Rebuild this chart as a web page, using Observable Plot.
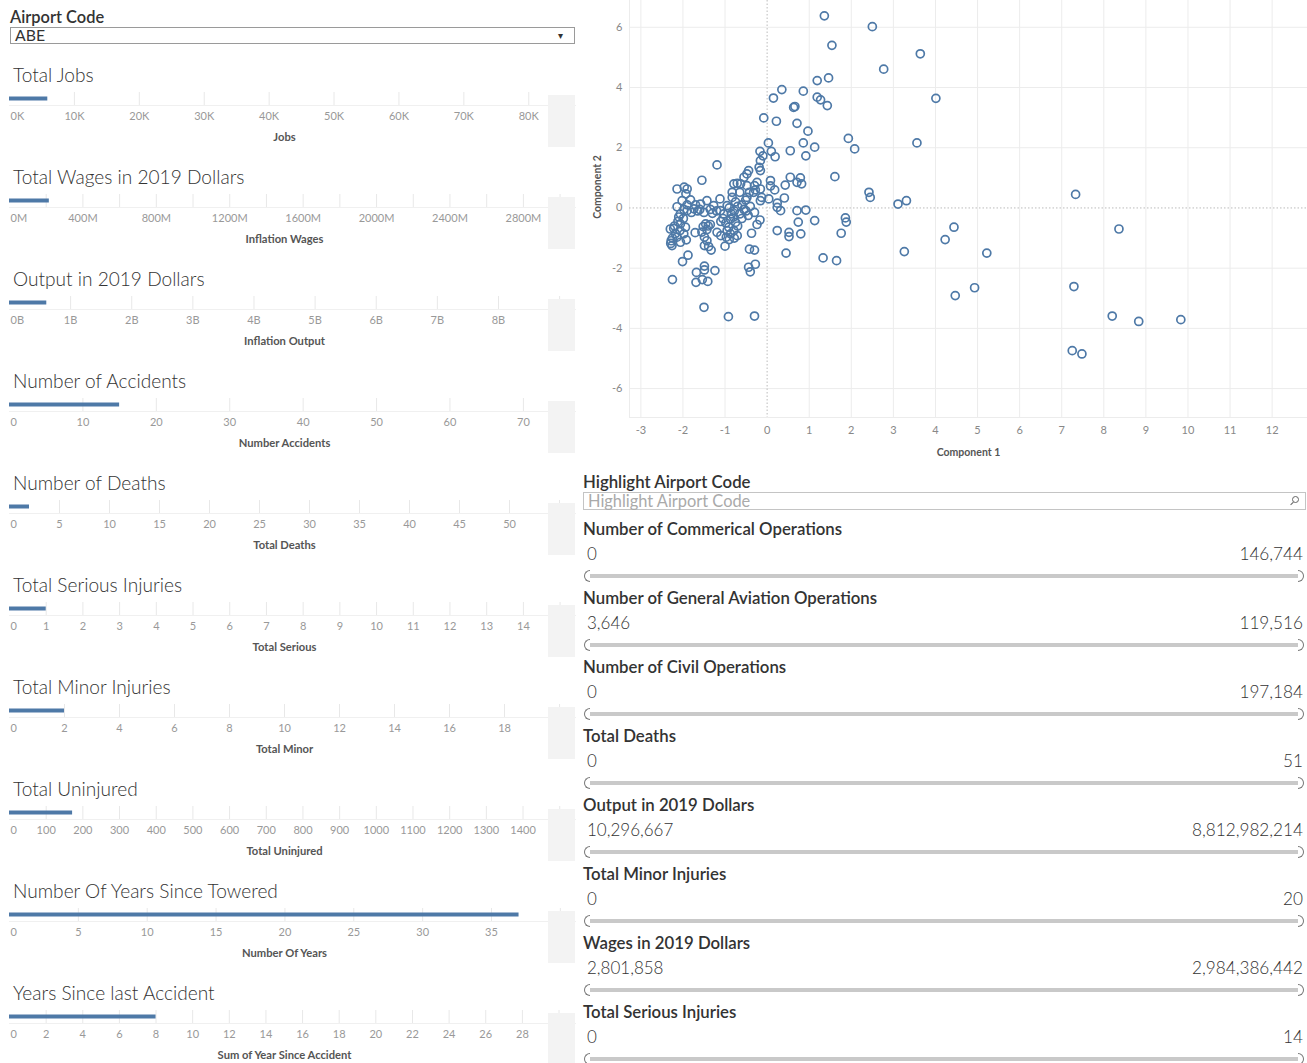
<!DOCTYPE html>
<html><head><meta charset="utf-8">
<script src="https://cdn.jsdelivr.net/npm/d3@7"></script>
<script src="https://cdn.jsdelivr.net/npm/@observablehq/plot@0.6"></script>
<style>
html,body{margin:0;padding:0;background:#fff;}
body{width:1307px;height:1063px;position:relative;overflow:hidden;font-family:Lato,"Open Sans",sans-serif;color:#333;}
#root{position:absolute;left:0;top:0;width:1307px;height:1063px;}
</style></head><body>
<div id="root"></div>
<script>
// ---------- Left panel: single-airport bar charts ----------
const barTitles = ["Total Jobs","Total Wages in 2019 Dollars","Output in 2019 Dollars","Number of Accidents","Number of Deaths","Total Serious Injuries","Total Minor Injuries","Total Uninjured","Number Of Years Since Towered","Years Since last Accident"];
const barValues = [5900, 217e6, 0.61e9, 15, 2, 1, 2, 172, 37, 8];
const barAxisTitles = ["Jobs","Inflation Wages","Inflation Output","Number Accidents","Total Deaths","Total Serious","Total Minor","Total Uninjured","Number Of Years","Sum of Year Since Accident"];
const barAxisMax = [87200, 3084e6, 9.26e9, 77.1, 56.6, 15.42, 20.58, 1543, 41.1, 30.9];
const barTickStep = [10000, 400e6, 1e9, 10, 5, 1, 2, 100, 5, 2];
const barGridStep = [10000, 200e6, 1e9, 10, 5, 1, 2, 100, 5, 2];
const barLastTick = [80000, 2800e6, 9e9, 70, 55, 15, 20, 1400, 40, 30];
const barUnit = [1e3, 1e6, 1e9, 1, 1, 1, 1, 1, 1, 1];
const barSuffix = ["K","M","B","","","","","","",""];

// ---------- PCA scatter ----------
const component1 = [
-2.14,-1.97,-1.90,-1.93,-2.14,-2.02,-1.82,-1.90,-1.98,-1.90,-2.06,-1.80,-1.74,-1.70,
-2.30,-2.22,-2.28,-2.26,-2.29,-2.14,-2.07,-2.06,-2.12,-1.98,-1.94,-1.92,-2.06,-2.18,-2.10,-1.99,-2.20,-2.25,-1.71,-1.88,-2.01,-2.25,
-1.58,-1.43,-1.55,-1.19,-1.60,-1.50,-1.35,-1.27,-1.12,-1.20,-1.46,-1.40,-1.52,-1.43,-1.35,-1.49,-1.43,-1.49,-1.39,-1.33,-1.55,-1.68,-1.69,-1.49,-1.49,-1.54,-1.41,-1.24,-1.50,-1.65,-1.30,
-1.19,-1.10,-1.00,-0.97,-0.87,-0.79,-0.71,-0.91,-0.75,-0.87,-1.03,-1.11,-0.95,-1.05,-0.98,-0.85,-0.80,-0.70,-0.65,-0.95,-1.10,-0.90,-0.78,-0.60,-0.92,-0.83,-0.83,-0.65,-0.79,-0.71,-0.63,-0.75,-0.70,-0.60,-0.55,-0.90,-0.78,
-0.48,-0.48,-0.32,-0.16,-0.44,-0.48,-0.55,-0.16,-0.24,-0.30,-0.16,-0.19,-0.16,-0.17,-0.10,-0.08,-0.42,-0.28,-0.51,-0.13,-0.50,-0.45,-0.37,-0.24,-0.17,-0.42,-0.30,-0.44,-0.40,-0.28,-0.30,-0.40,-0.30,
0.04,0.41,0.24,0.24,0.32,0.08,0.18,0.43,0.08,0.55,0.79,0.82,0.71,0.03,0.10,0.19,0.55,0.92,0.86,0.97,0.71,0.22,0.15,0.35,0.86,0.63,0.66,0.71,0.92,0.24,0.52,0.52,0.45,0.74,0.80,
1.36,2.50,1.54,3.64,2.77,1.19,1.46,1.19,1.27,1.43,4.01,1.93,2.08,3.56,1.13,1.61,2.42,2.45,3.11,3.31,1.13,1.33,1.65,1.76,1.86,1.88,3.26,4.23,4.44,4.47,
7.33,8.36,5.22,4.93,7.29,8.20,8.83,9.83,7.25,7.48];
const component2 = [
0.63,0.69,0.63,0.47,0.04,0.24,0.27,0.10,-0.05,-0.09,-0.20,-0.15,-0.03,0.10,
-0.70,-0.68,-1.09,-1.25,-1.18,-0.97,-0.75,-0.53,-0.45,-0.86,-0.64,-1.06,-1.14,-0.85,-0.30,-0.35,-0.60,-1.00,-0.82,-1.57,-1.78,-2.38,
0.13,0.24,0.92,1.43,-0.05,-0.15,-0.05,0.08,0.30,-0.10,-0.53,-0.60,-0.62,-0.72,-0.55,-0.97,-1.09,-1.25,-1.28,-1.40,-0.80,-2.14,-2.47,-1.93,-2.06,-2.38,-2.44,-2.08,-3.30,-0.10,-0.18,
-0.81,-0.92,-1.27,-0.97,-0.86,-0.75,-0.92,-0.64,-0.48,-0.37,-0.20,-0.09,0.08,-0.35,-0.50,-0.20,-0.30,-0.60,-0.20,-0.75,-0.45,-1.05,-1.00,-0.35,-3.61,0.52,0.35,0.52,0.80,0.82,0.80,0.20,0.05,0.10,-0.05,0.00,-0.10,
0.74,0.35,0.52,0.24,1.24,1.13,1.02,1.24,0.85,0.74,0.63,1.35,1.57,1.88,1.73,2.99,0.52,0.60,0.26,0.35,-0.10,-0.25,-0.84,-0.55,-0.40,-1.37,-1.40,-1.97,-2.12,-1.87,-3.59,0.05,-0.15,
0.30,0.33,0.16,0.02,-0.09,0.91,0.60,0.76,0.73,1.02,1.00,0.80,0.85,2.16,1.88,1.70,1.90,1.73,2.16,2.55,2.81,2.88,3.65,3.93,3.88,3.34,3.37,-0.09,-0.07,-0.75,-0.81,-0.95,-1.50,-0.47,-0.86,
6.38,6.02,5.40,5.12,4.61,4.23,4.32,3.68,3.59,3.40,3.64,2.31,1.96,2.16,2.02,1.04,0.52,0.35,0.13,0.24,-0.42,-1.66,-1.75,-0.84,-0.33,-0.47,-1.45,-1.05,-0.64,-2.91,
0.45,-0.70,-1.50,-2.65,-2.61,-3.59,-3.77,-3.71,-4.74,-4.85];
const xTicks = [-3,-2,-1,0,1,2,3,4,5,6,7,8,9,10,11,12];
const yTicks = [-6,-4,-2,0,2,4,6];

// ---------- Right panel: range filters ----------
const filterNames = ["Number of Commerical Operations","Number of General Aviation Operations","Number of Civil Operations","Total Deaths","Output in 2019 Dollars","Total Minor Injuries","Wages in 2019 Dollars","Total Serious Injuries"];
const filterMin = [0, 3646, 0, 0, 10296667, 0, 2801858, 0];
const filterMax = [146744, 119516, 197184, 51, 8812982214, 20, 2984386442, 14];

const BLUE = "#4e79a7";
const root = document.getElementById("root");
function put(text, css){
  const el = document.createElement("div");
  if (text != null) el.textContent = text;
  el.style.cssText = "position:absolute;white-space:nowrap;" + css;
  root.appendChild(el);
  return el;
}

// Airport Code selector
put("Airport Code", "left:10px;top:7px;line-height:20px;font-size:16.4px;font-weight:600;color:#333;");
put(null, "left:10px;top:27px;width:563px;height:15px;border:1px solid #9a9a9a;");
put("ABE", "left:15px;top:26px;line-height:18px;font-size:15.8px;color:#333;");
put("▾", "left:558px;top:27px;line-height:16px;font-size:10px;color:#333;");

// Bar charts
barTitles.forEach((title, i) => {
  const T = 75 + 102 * i;
  put(title, `left:13px;top:${T-12}px;line-height:24px;font-size:19.1px;font-weight:300;color:#333;`);
  const step = barTickStep[i];
  const ticks = d3.range(step, barLastTick[i] + step / 2, step);
  const grid = d3.range(barGridStep[i], barAxisMax[i], barGridStep[i]);
  const unit = barUnit[i], suf = barSuffix[i];
  const tf = d => (Math.round(d / unit * 100) / 100) + suf;
  const svg = Plot.plot({
    width: 575, height: 56,
    marginLeft: 9, marginRight: 0, marginTop: 2, marginBottom: 41,
    style: {background: "transparent", fontFamily: "Lato, sans-serif", fontSize: "11px", overflow: "visible"},
    x: {domain: [0, barAxisMax[i]]},
    y: {domain: ["v"], axis: null, padding: 0},
    marks: [
      Plot.gridX(grid, {stroke: "#e8e8e8", strokeOpacity: 1}),
      Plot.frame({anchor: "bottom", stroke: "#f0f0f0"}),
      Plot.barX([barValues[i]], {x1: 0, x2: d => d, y: () => "v", insetTop: 4.5, insetBottom: 4.5, fill: BLUE}),
      Plot.axisX({ticks, tickFormat: tf, tickSize: 0, tickPadding: 7, fill: "#999", label: null}),
      Plot.axisX({ticks: [0], tickFormat: tf, tickSize: 0, tickPadding: 7, textAnchor: "start", dx: 1, fill: "#999", label: null}),
      Plot.text([barAxisTitles[i]], {frameAnchor: "bottom", dx: -8, dy: 35, text: d => d, fill: "#555", fontWeight: "bold", fontSize: 11.2})
    ]
  });
  svg.style.position = "absolute";
  svg.style.left = "0px";
  svg.style.top = (T + 15) + "px";
  root.appendChild(svg);
  put(null, `left:548px;top:${T+20}px;width:27px;height:52px;background:#f3f3f3;`);
});

// Scatter
const points = component1.map((c, i) => ({c1: c, c2: component2[i]}));
const scatter = Plot.plot({
  width: 727, height: 465,
  marginLeft: 49, marginRight: 0, marginTop: 0, marginBottom: 48,
  style: {background: "transparent", fontFamily: "Lato, sans-serif", fontSize: "11px", overflow: "visible"},
  x: {domain: [-3.27, 12.84]},
  y: {domain: [-6.96, 6.89]},
  marks: [
    Plot.gridX(xTicks.filter(d => d !== 0), {stroke: "#ececec", strokeOpacity: 1}),
    Plot.gridY(yTicks.filter(d => d !== 0), {stroke: "#ececec", strokeOpacity: 1}),
    Plot.frame({anchor: "bottom", stroke: "#ececec"}),
    Plot.frame({anchor: "left", stroke: "#ececec"}),
    Plot.ruleX([0], {stroke: "#bbb", strokeDasharray: "1.5,2"}),
    Plot.ruleY([0], {stroke: "#bbb", strokeDasharray: "1.5,2"}),
    Plot.axisX({ticks: xTicks, tickFormat: d => String(d), tickSize: 0, tickPadding: 9, fill: "#888", label: null}),
    Plot.axisY({ticks: yTicks, tickFormat: d => String(d), tickSize: 0, tickPadding: 7, fill: "#888", label: null}),
    Plot.text(["Component 1"], {frameAnchor: "bottom", dy: 38, text: d => d, fill: "#555", fontWeight: "bold", fontSize: 10.5}),
    Plot.text(["Component 2"], {frameAnchor: "left", textAnchor: "middle", dx: -32, dy: -22, rotate: -90, text: d => d, fill: "#555", fontWeight: "bold", fontSize: 10.5}),
    Plot.dot(points, {x: "c1", y: "c2", r: 4, stroke: BLUE, strokeWidth: 1.7, fill: "none"})
  ]
});
scatter.style.position = "absolute";
scatter.style.left = "580px";
scatter.style.top = "0px";
root.appendChild(scatter);

// Highlight box
put("Highlight Airport Code", "left:583px;top:472px;line-height:20px;font-size:16.8px;font-weight:600;color:#333;");
put(null, "left:583px;top:492px;width:721px;height:16px;border:1px solid #c4c4c4;");
put("Highlight Airport Code", "left:588px;top:491px;line-height:19px;font-size:16.4px;color:#aaa;");
put(null, "left:1292px;top:496px;width:5px;height:5px;border:1px solid #666;border-radius:50%;");
put(null, "left:1290px;top:503px;width:4px;height:1px;background:#666;transform:rotate(-45deg);");

// Range filters
const fmt = d3.format(",");
filterNames.forEach((name, i) => {
  const y0 = 529 + 69 * i;
  put(name, `left:583px;top:${y0-10}px;line-height:20px;font-size:16.8px;font-weight:600;color:#333;`);
  put(fmt(filterMin[i]), `left:587px;top:${y0+15}px;line-height:20px;font-size:17px;font-weight:300;color:#333;`);
  put(fmt(filterMax[i]), `right:4px;top:${y0+15}px;line-height:20px;font-size:17.2px;font-weight:300;color:#333;`);
  put(null, `left:589px;top:${y0+45}px;width:710px;height:4px;background:#c9c9c9;`);
  put(null, `left:584px;top:${y0+41}px;width:5px;height:10px;border:1.5px solid #777;border-right:none;border-radius:6px 0 0 6px;background:#fff;`);
  put(null, `left:1298px;top:${y0+41}px;width:5px;height:10px;border:1.5px solid #777;border-left:none;border-radius:0 6px 6px 0;background:#fff;`);
});
</script>
</body></html>
